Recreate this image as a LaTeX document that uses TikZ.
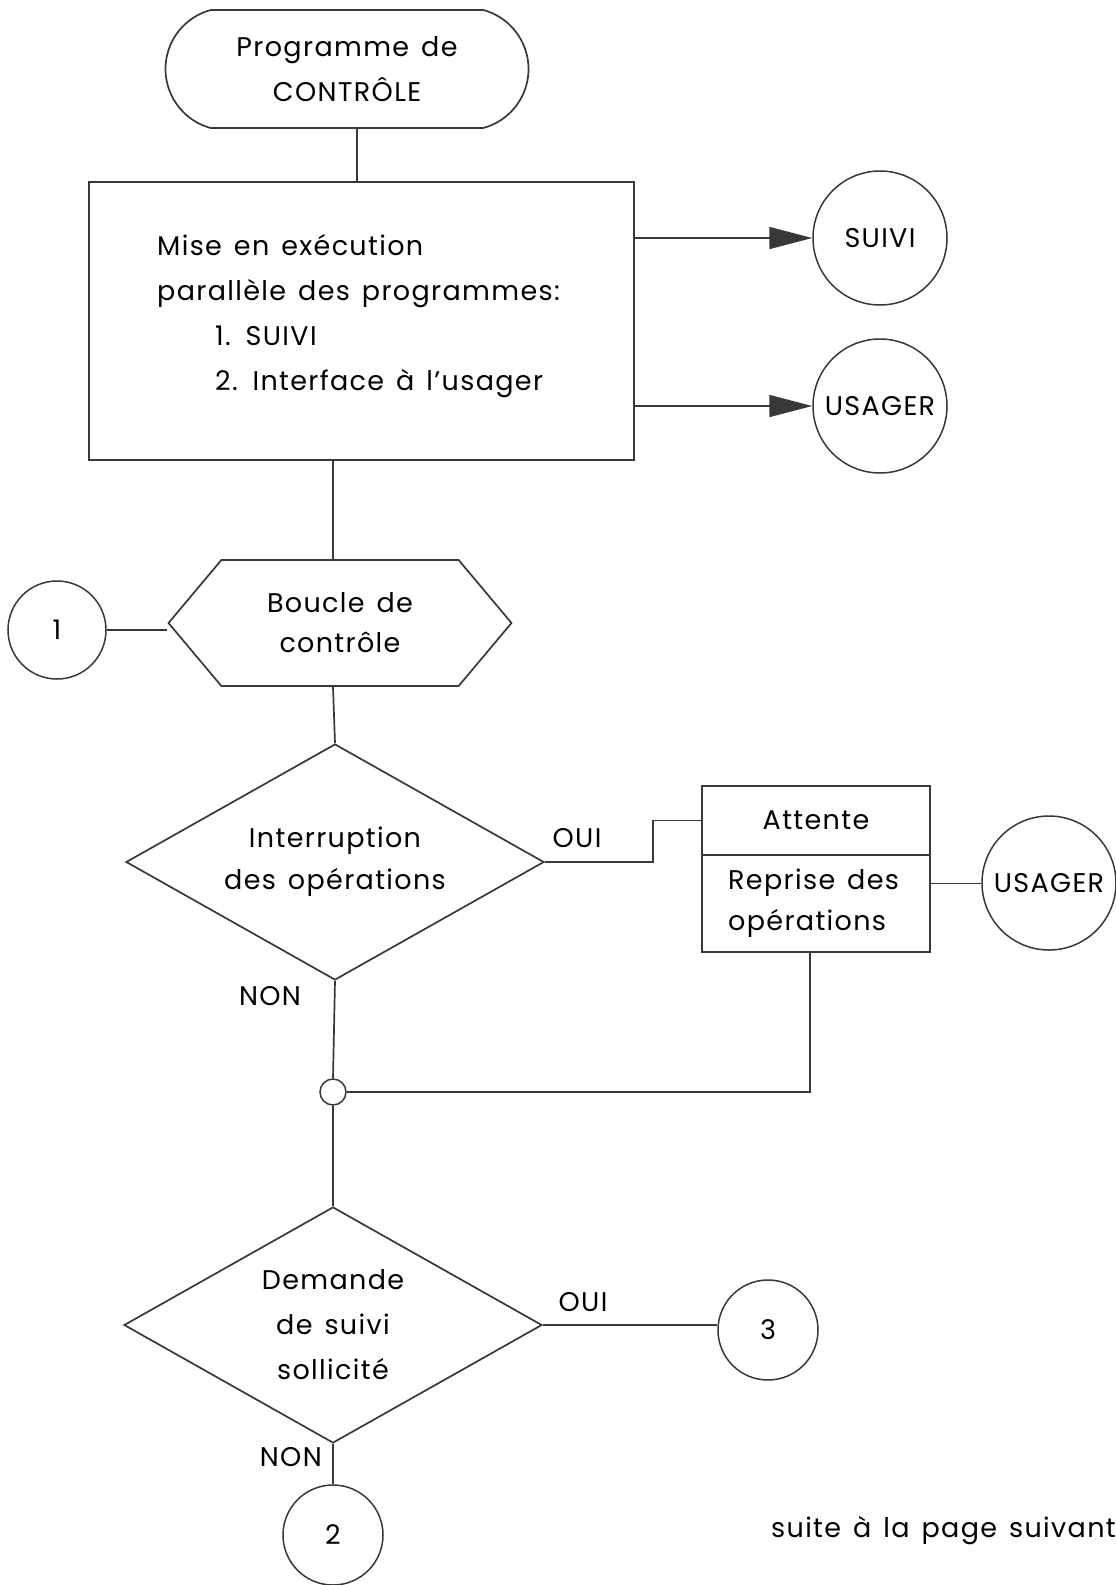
\documentclass[tikz,border=0pt]{standalone}
\usepackage{fontspec}
\setmainfont{Poppins}[LetterSpace=5,WordSpace=1.4]
\usetikzlibrary{shapes.geometric,shapes.misc,shapes.symbols,arrows.meta,calc}
\definecolor{ink}{gray}{0.22}
\begin{document}
\begin{tikzpicture}[x=1pt,y=-1pt,
  every node/.style={font=\fontsize{27}{45}\selectfont, text=black, inner sep=0pt},
  line/.style={draw=ink, line width=1.7pt},
  arr/.style={line, -{Triangle[length=43pt,width=22pt]}},
  terminal/.style={rounded rectangle, rounded rectangle arc length=150, draw=ink, line width=1.7pt,
    minimum width=363pt, minimum height=118pt, align=center},
  procbox/.style={rectangle, draw=ink, line width=1.7pt},
  loopbox/.style={signal, signal to=west and east, signal pointer angle=100, draw=ink, line width=1.7pt,
    minimum width=343pt, minimum height=126pt, align=center},
  decision/.style={diamond, aspect=1.77, draw=ink, line width=1.7pt,
    minimum width=418pt, minimum height=236pt, align=center},
  conn/.style={circle, draw=ink, line width=1.5pt},
  label/.style={font=\fontsize{27}{30}\selectfont}
]
\useasboundingbox (0,0) rectangle (1116,1585);

% start of the control program
\node[terminal] (start) at (347,69) {Programme de\\CONTRÔLE};

% parallel launch of the programs
\node[procbox, minimum width=545pt, minimum height=278pt] (box) at (361.5,321) {};
\node[align=left, anchor=west] (boxtext) at (157,316)
  {Mise en exécution\\parallèle des programmes:\\\hspace*{58pt}1. SUIVI\\\hspace*{58pt}2. Interface à l’usager};

\node[conn, minimum size=134pt] (suivi) at (880,238) {SUIVI};
\node[conn, minimum size=134pt] (usager) at (880,406) {USAGER};

% control loop
\node[loopbox, font=\fontsize{27}{40}\selectfont] (hex) at (340,623) {Boucle de\\contrôle};
\node[conn, minimum size=98pt] (c1) at (57,630) {1};

% first decision
\node[decision, font=\fontsize{27}{42}\selectfont] (d1) at (335,862) {Interruption\\des opérations};
\node[label] (oui1) at (577,838) {OUI};
\node[label] (non1) at (270,996) {NON};

% pause / resume box
\node[procbox, minimum width=228pt, minimum height=69pt] (attente) at (816,820.5) {Attente};
\node[procbox, minimum width=228pt, minimum height=97pt] (reprise) at (816,903.5) {};
\node[align=left, anchor=west, font=\fontsize{27}{41}\selectfont] (reprisetext) at (728,903)
  {Reprise des\\opérations};
\node[conn, minimum size=134pt] (usager2) at (1049,883) {USAGER};

% junction
\node[conn, minimum size=26pt] (junction) at (333,1092) {};

% second decision
\node[decision, font=\fontsize{27}{45}\selectfont] (d2) at (333,1325) {Demande\\de suivi\\sollicité};
\node[label] (oui2) at (583,1302) {OUI};
\node[label, anchor=east] (non2) at (322,1457) {NON};
\node[conn, minimum size=100pt] (c3) at (768,1330) {3};
\node[conn, minimum size=100pt] (c2) at (333,1535) {2};

\node[label, anchor=base west] (suite) at (771,1537) {suite à la page suivant};

% connectors
\coordinate (axis) at (333,0);
\draw[line] ([xshift=10pt]start.south) -- ([xshift=10pt]start.south |- box.north);
\draw[arr] (box.east |- suivi) -- (suivi.west);
\draw[arr] (box.east |- usager) -- (usager.west);
\draw[line] (box.south -| axis) -- (hex.north -| axis);
\draw[line] (c1.east) -- (c1.east -| hex.west);
\draw[line] (hex.south -| axis) -- (d1.north);
\draw[line] (d1.east) -- ++(108,0) |- (attente.west);
\draw[draw=ink, line width=1pt] (reprise.east |- usager2) -- (usager2.west);
\draw[line] ([xshift=-6pt]reprise.south) |- (junction.east);
\draw[line] (d1.south) -- (junction.north);
\draw[line] (junction.south) -- (d2.north);
\draw[line] (d2.east) -- (d2.east -| c3.west);
\draw[line] (d2.south) -- (c2.north);
\end{tikzpicture}
\end{document}
